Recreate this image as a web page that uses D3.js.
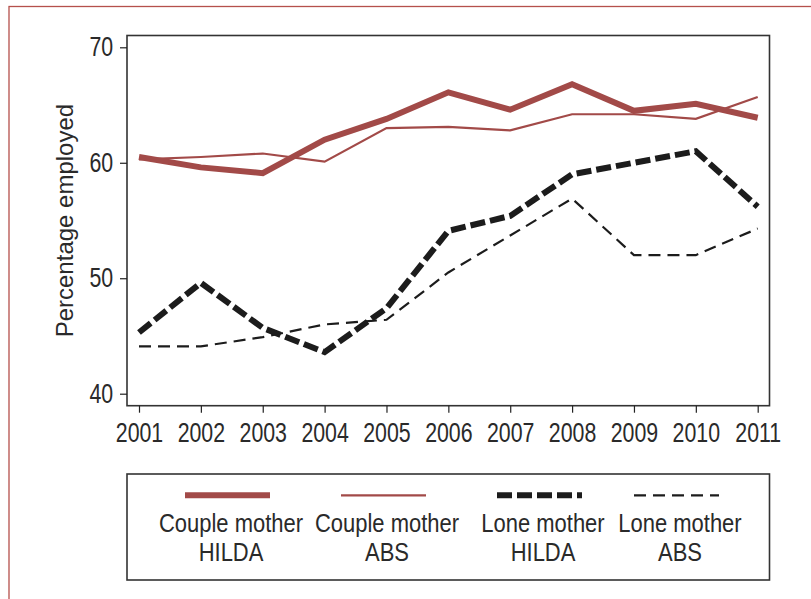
<!DOCTYPE html>
<html>
<meta charset="utf-8">
<head>
	<script src="https://d3js.org/d3.v7.min.js"></script>
	<style>
		body { margin: 0; background: #fff; }
		.tick text {
			font-family: "Liberation Sans", Arial, sans-serif;
			font-size: 27px;
			fill: #2a2a2a;
		}
		.tick line { stroke: #222; stroke-width: 1.2px; }
		.legtext {
			font-family: "Liberation Sans", Arial, sans-serif;
			font-size: 26px;
			fill: #2a2a2a;
		}
	</style>
</head>
<body>
	<script>
		// data
		var years = [2001, 2002, 2003, 2004, 2005, 2006, 2007, 2008, 2009, 2010, 2011];
		var coupleHilda = [60.5, 59.6, 59.1, 62.0, 63.8, 66.1, 64.6, 66.8, 64.5, 65.1, 63.9];
		var coupleAbs   = [60.3, 60.5, 60.8, 60.1, 63.0, 63.1, 62.8, 64.2, 64.2, 63.8, 65.7];
		var loneHilda   = [45.3, 49.6, 45.7, 43.6, 47.4, 54.1, 55.4, 59.0, 60.0, 61.0, 56.2];
		var loneAbs     = [44.1, 44.1, 44.9, 46.0, 46.4, 50.5, 53.7, 56.9, 52.0, 52.0, 54.3];
		var yTicks = [40, 50, 60, 70];
		var seriesNames = [["Couple mother", "HILDA"], ["Couple mother", "ABS"], ["Lone mother", "HILDA"], ["Lone mother", "ABS"]];

		var width = 811,
				height = 599;

		var red = "#a24a48",
				black = "#1c1c1c";

		var styles = [
			{color: red, width: 6, dash: null},
			{color: red, width: 2.2, dash: null},
			{color: black, width: 6, dash: "15,5"},
			{color: black, width: 2.2, dash: "12,7"}
		];
		var series = [coupleHilda, coupleAbs, loneHilda, loneAbs];

		var frame = {left: 127, top: 35.5, right: 769.5, bottom: 405.7};

		// no narrow font installed, so squeeze the regular one
		var squeeze = "scale(0.79,1)";

		var x = d3.scaleLinear().domain([2001, 2011]).range([139, 757.7]);
		var y = d3.scaleLinear().domain([40, 70]).range([393.7, 47.3]);

		var svg = d3.select("body").append("svg")
						.attr("width", width)
						.attr("height", height);

		// red outer border (runs off the right and bottom edges)
		svg.append("rect")
			.attr("x", 9).attr("y", 6.5)
			.attr("width", 820).attr("height", 620)
			.attr("fill", "none")
			.attr("stroke", "#b5504c")
			.attr("stroke-width", 1.3);

		// lines
		var line = d3.line()
			.x(function(d, i) { return x(years[i]); })
			.y(function(d) { return y(d); });

		// thin ones first, then thick
		[3, 1, 2, 0].forEach(function(k) {
			svg.append("path")
				.datum(series[k])
				.attr("d", line)
				.attr("fill", "none")
				.attr("stroke", styles[k].color)
				.attr("stroke-width", styles[k].width)
				.attr("stroke-dasharray", styles[k].dash)
				.attr("stroke-linejoin", "miter");
		});

		// plot frame
		svg.append("rect")
			.attr("x", frame.left).attr("y", frame.top)
			.attr("width", frame.right - frame.left)
			.attr("height", frame.bottom - frame.top)
			.attr("fill", "none")
			.attr("stroke", "#333")
			.attr("stroke-width", 1.6);

		// axes
		var yAxis = svg.append("g")
			.attr("transform", "translate(" + frame.left + ",0)")
			.call(d3.axisLeft(y).tickValues(yTicks).tickSize(7).tickPadding(10.5));
		yAxis.select(".domain").remove();
		yAxis.selectAll(".tick text").attr("transform", squeeze);

		var xAxis = svg.append("g")
			.attr("transform", "translate(0," + frame.bottom + ")")
			.call(d3.axisBottom(x).tickValues(years).tickFormat(d3.format("d")).tickSize(7).tickPadding(10));
		xAxis.select(".domain").remove();
		xAxis.selectAll(".tick text").attr("transform", squeeze);

		svg.append("text")
			.attr("class", "legtext")
			.attr("transform", "translate(73," + ((frame.top + frame.bottom) / 2) + ") rotate(-90)")
			.attr("text-anchor", "middle")
			.style("font-size", "24px")
			.text("Percentage employed");

		// legend
		svg.append("rect")
			.attr("x", 127).attr("y", 474)
			.attr("width", 642.5).attr("height", 106)
			.attr("fill", "none")
			.attr("stroke", "#333")
			.attr("stroke-width", 1.6);

		var legCenters = [231, 387, 543, 680];
		var leg = svg.selectAll(".leg")
			.data(seriesNames).enter()
			.append("g")
			.attr("class", "leg")
			.attr("transform", function(d, i) { return "translate(" + legCenters[i] + ",0)"; });

		leg.append("line")
			.attr("x1", -46).attr("x2", 39)
			.attr("y1", 495.3).attr("y2", 495.3)
			.attr("stroke", function(d, i) { return styles[i].color; })
			.attr("stroke-width", function(d, i) { return styles[i].width; })
			.attr("stroke-dasharray", function(d, i) { return styles[i].dash; });

		leg.append("text")
			.attr("class", "legtext")
			.attr("text-anchor", "middle")
			.attr("y", 532.5)
			.attr("transform", "scale(0.845,1)")
			.text(function(d) { return d[0]; });
		leg.append("text")
			.attr("class", "legtext")
			.attr("text-anchor", "middle")
			.attr("y", 561.5)
			.attr("transform", "scale(0.845,1)")
			.text(function(d) { return d[1]; });
	</script>
</body>
</html>
